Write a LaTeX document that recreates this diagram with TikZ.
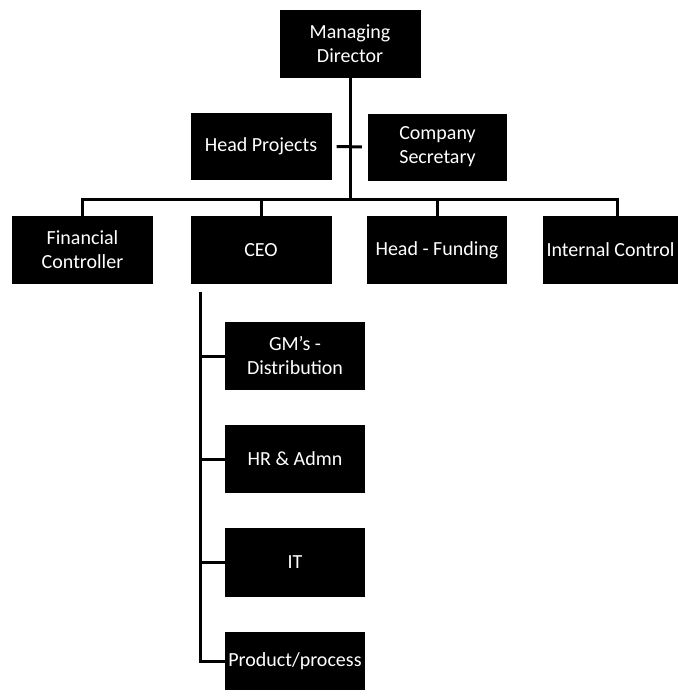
\documentclass[tikz,border=0pt]{standalone}
\usepackage{fontspec}
\setmainfont{Carlito}

\begin{document}
\begin{tikzpicture}[x=1pt, y=-1pt,
    unit/.style={fill=black, text=white, align=center, inner sep=2pt,
        minimum width=141pt, minimum height=68pt,
        font=\fontsize{20}{24}\selectfont},
    link/.style={line width=3pt}]
    \useasboundingbox (0,0) rectangle (678,697);

    % Top of the chart
    \node[unit] (md) at (350,44) {Managing\\Director};

    % Staff posts beside the main line
    \node[unit, minimum height=67pt] (hp) at (261,146.5) {Head Projects};
    \node[unit, minimum width=139pt, minimum height=67pt] (cs) at (437.5,147) {Company\\Secretary};

    % Second row
    \node[unit] (fc) at (82.5,250) {Financial\\Controller};
    \node[unit] (ceo) at (261,250) {CEO};
    \node[unit, minimum width=140pt] (hf) at (437,250) {Head - Funding};
    \node[unit, minimum width=135pt, inner sep=0pt] (ic) at (610.5,250) {Internal Control};

    % Posts under the CEO
    \node[unit, minimum width=140pt] (gm) at (295,356) {GM's -\\Distribution};
    \node[unit, minimum width=140pt] (hr) at (295,459) {HR \& Admn};
    \node[unit, minimum width=140pt, minimum height=69pt] (it) at (295,562.5) {IT};
    \node[unit, minimum width=140pt, minimum height=58pt] (pp) at (295,661) {Product/process};

    % Main line and bus
    \coordinate (bus) at (350,199);
    \draw[link] (md.south) -- (bus);
    \draw[link, shorten <=5pt, shorten >=6pt] (hp.east) -- (cs.west);
    \draw[link] (fc.north) |- (bus);
    \draw[link] ([xshift=6.5pt]ic.north) |- (bus);
    \draw[link] (ceo.north) -- (ceo.north |- bus);
    \draw[link] (hf.north) -- (hf.north |- bus);

    % Line down from the CEO
    \coordinate (ceoline) at (200,292);
    \draw[link] (ceoline) |- (pp.west);
    \draw[link] (ceoline |- gm.west) -- (gm.west);
    \draw[link] (ceoline |- hr.west) -- (hr.west);
    \draw[link] (ceoline |- it.west) -- (it.west);
\end{tikzpicture}
\end{document}
